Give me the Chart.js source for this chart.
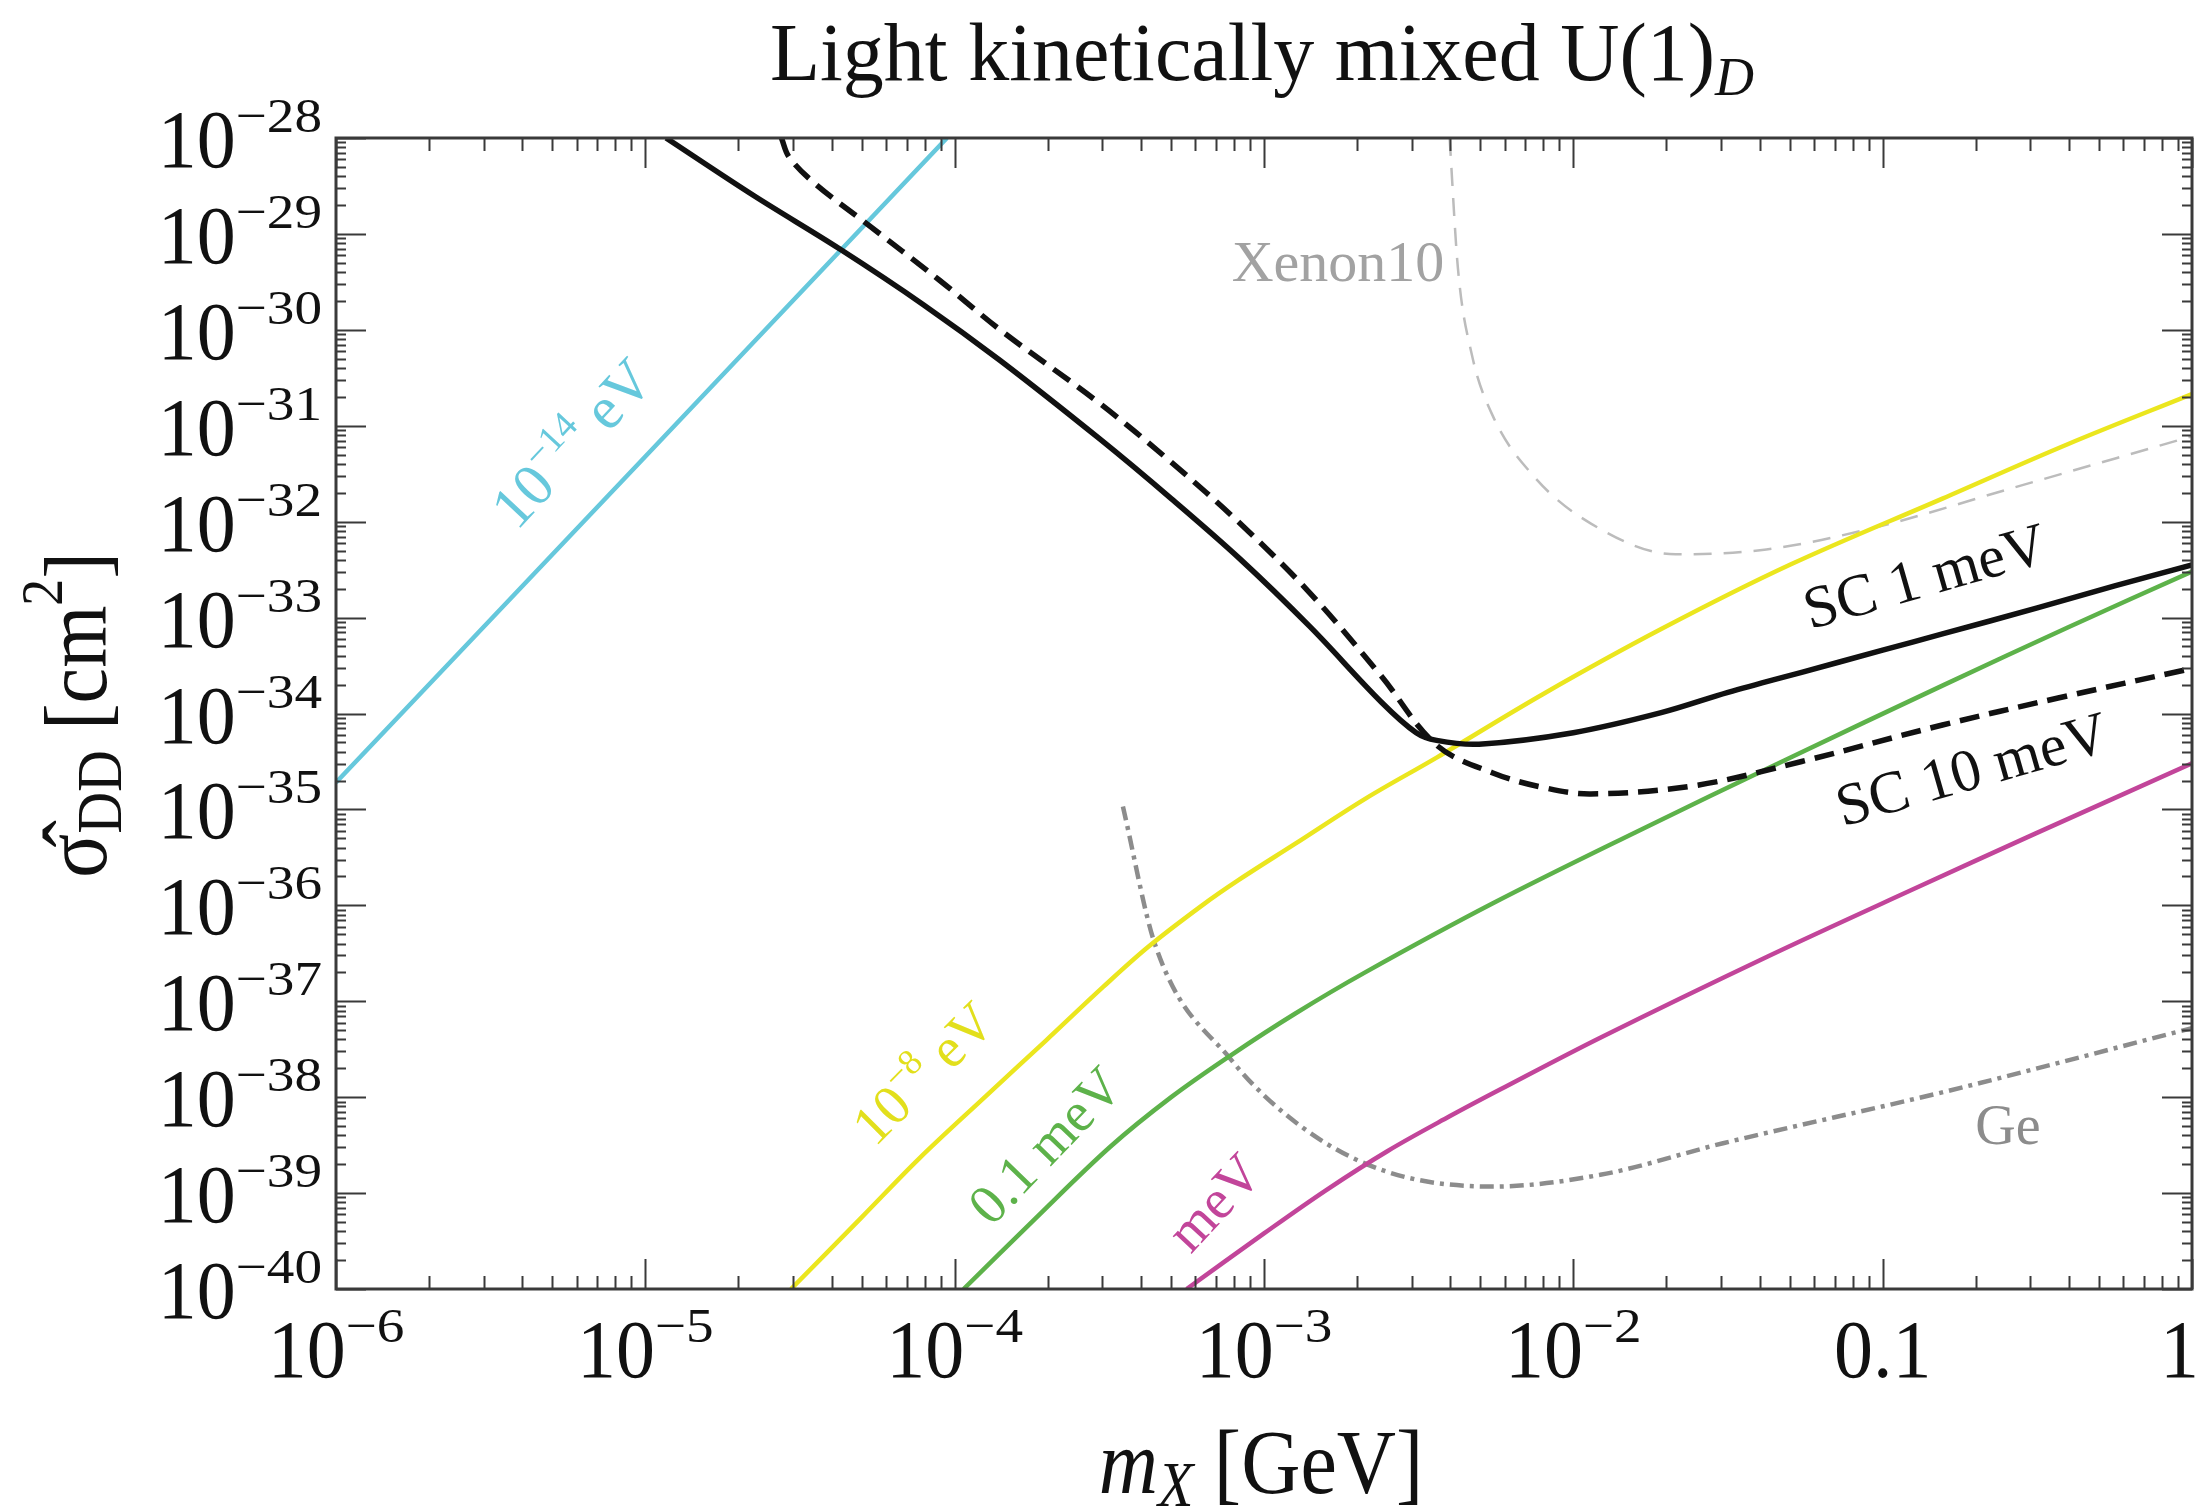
<!DOCTYPE html>
<html lang="en">
  <head>
    <meta charset="UTF-8" />
    <title>Light kinetically mixed U(1)D</title>
    <script src="https://cdn.jsdelivr.net/npm/chart.js"></script>
    <style>
      * {
        margin: 0;
        padding: 0;
      }
      body {
        background: #fff;
      }
      .wrap {
        width: 2200px;
        height: 1508px;
        position: relative;
      }
    </style>
  </head>
  <body>
    <div class="wrap">
      <canvas id="chart"></canvas>
    </div>

    <script>
      /*====  DATA (m_X in GeV, sigma in cm^2) ============================ */
      const sc1X = [1.167e-5, 2.239e-5, 4.266e-5, 7.943e-5, 1.403e-4, 2.951e-4, 5.012e-4, 8.375e-4, 1.413e-3, 2.393e-3, 3.105e-3, 3.614e-3, 4.955e-3, 1.0e-2, 1.923e-2, 3.162e-2, 5.47e-2, 0.1, 0.156, 0.3162, 0.5623, 1];
      const sc1Y = [1e-28, 2.512e-29, 6.92e-30, 1.82e-30, 4.79e-31, 7.24e-32, 1.74e-32, 4.07e-33, 7.94e-34, 1.32e-34, 6.31e-35, 5.25e-35, 4.79e-35, 6.31e-35, 1.02e-34, 1.66e-34, 2.69e-34, 4.57e-34, 6.76e-34, 1.26e-33, 2.14e-33, 3.55e-33];

      const sc10X = [2.754e-5, 2.917e-5, 3.548e-5, 5.129e-5, 8.913e-5, 1.403e-4, 2.951e-4, 5.012e-4, 8.375e-4, 1.413e-3, 2.382e-3, 3.614e-3, 5.495e-3, 7.943e-3, 1.14e-2, 2.495e-2, 5.47e-2, 0.156, 0.369, 1];
      const sc10Y = [1e-28, 6.31e-29, 3.31e-29, 1.32e-29, 3.31e-30, 1e-30, 1.7e-31, 4.17e-32, 9.55e-33, 1.78e-33, 2.51e-34, 4.68e-35, 2.4e-35, 1.7e-35, 1.45e-35, 1.78e-35, 3.16e-35, 7.59e-35, 1.45e-34, 2.95e-34];

      const xenonX = [3.981e-3, 4.236e-3, 4.699e-3, 5.495e-3, 7.516e-3, 1.14e-2, 2.138e-2, 4.207e-2, 9.204e-2, 0.2624, 1];
      const xenonY = [1e-28, 4.37e-30, 5.5e-31, 1.26e-31, 2.88e-32, 9.55e-33, 4.57e-33, 5.13e-33, 8.51e-33, 2.24e-32, 7.76e-32];

      const cyanX = [1e-6, 1e-5, 9.44e-5];
      const cyanY = [1.905e-35, 4.786e-32, 1e-28];

      const yellowX = [2.958e-5, 5.012e-5, 7.674e-5, 1.259e-4, 1.972e-4, 3.02e-4, 4.236e-4, 6.31e-4, 8.241e-4, 1.259e-3, 2.123e-3, 3.614e-3, 7.943e-3, 1.923e-2, 5.012e-2, 0.156, 0.3981, 1];
      const yellowY = [1e-40, 5.62e-40, 2.29e-39, 1.02e-38, 3.89e-38, 1.41e-37, 3.72e-37, 1e-36, 1.82e-36, 4.37e-36, 1.29e-35, 3.47e-35, 1.58e-34, 7.59e-34, 3.55e-33, 1.74e-32, 6.46e-32, 2.14e-31];

      const greenX = [1.069e-4, 1.778e-4, 3.177e-4, 5.012e-4, 7.834e-4, 1.259e-3, 2.123e-3, 5.495e-3, 1.585e-2, 4.808e-2, 0.1585, 0.3981, 1];
      const greenY = [1e-40, 5.01e-40, 3.02e-39, 1e-38, 2.75e-38, 7.41e-38, 2.0e-37, 1.05e-36, 5.75e-36, 3.24e-35, 2.0e-34, 7.94e-34, 3.02e-33];

      const magentaX = [5.623e-4, 1e-3, 1.585e-3, 2.512e-3, 3.981e-3, 5.794e-3, 1.222e-2, 4.266e-2, 0.1259, 0.3126, 1];
      const magentaY = [1e-40, 3.8e-40, 1.07e-39, 2.75e-39, 6.31e-39, 1.2e-38, 4.17e-38, 2.95e-37, 1.48e-36, 5.62e-36, 3.02e-35];

      const geX = [3.499e-4, 4.446e-4, 7.834e-4, 1.324e-3, 2.455e-3, 5.495e-3, 1.222e-2, 3.048e-2, 0.1607, 1];
      const geY = [1.07e-35, 3.89e-37, 2.45e-38, 4.9e-39, 1.7e-39, 1.17e-39, 1.55e-39, 3.31e-39, 1.15e-38, 5.25e-38];

      // tick labels, "base^exponent"
      const xTickVals = [1e-6, 1e-5, 1e-4, 1e-3, 1e-2, 0.1, 1];
      const xTickText = ['10^−6', '10^−5', '10^−4', '10^−3', '10^−2', '0.1', '1'];
      const yTickVals = [1e-28, 1e-29, 1e-30, 1e-31, 1e-32, 1e-33, 1e-34, 1e-35, 1e-36, 1e-37, 1e-38, 1e-39, 1e-40];
      const yTickText = ['10^−28', '10^−29', '10^−30', '10^−31', '10^−32', '10^−33', '10^−34', '10^−35', '10^−36', '10^−37', '10^−38', '10^−39', '10^−40'];

      const SERIF = '"Liberation Serif", "DejaVu Serif", serif';

      function pts(xs, ys) {
        return xs.map((x, i) => ({ x: x, y: ys[i] }));
      }

      /*====  text helper: runs of text with baseline shifts ============================ */
      function runs(ctx, parts, x, y, opt) {
        opt = opt || {};
        let w = 0;
        parts.forEach((p) => {
          ctx.font = p[1];
          w += ctx.measureText(p[0]).width * (p[3] || 1);
        });
        ctx.save();
        ctx.translate(x, y);
        if (opt.rot) ctx.rotate((opt.rot * Math.PI) / 180);
        ctx.scale(opt.sx || 1, opt.sy || 1);
        ctx.fillStyle = opt.color || '#111';
        ctx.textBaseline = opt.baseline || 'alphabetic';
        ctx.textAlign = 'left';
        let cx = opt.align === 'right' ? -w : opt.align === 'left' ? 0 : -w / 2;
        parts.forEach((p) => {
          const psx = p[3] || 1;
          ctx.font = p[1];
          ctx.save();
          ctx.translate(cx, p[2] || 0);
          ctx.scale(psx, 1);
          ctx.fillText(p[0], 0, 0);
          ctx.restore();
          cx += ctx.measureText(p[0]).width * psx;
        });
        ctx.restore();
        return w * (opt.sx || 1);
      }

      function tickParts(str) {
        const s = str.split('^');
        const parts = [[s[0], '78px ' + SERIF, 0]];
        if (s.length > 1) parts.push([s[1], '46px ' + SERIF, -33, 1.2]);
        return parts;
      }

      /*====  frame, ticks and text ============================ */
      const decor = {
        id: 'decor',
        afterDatasetsDraw(chart) {
          const ctx = chart.ctx;
          const a = chart.chartArea;
          const xs = chart.scales.x;
          const ys = chart.scales.y;

          ctx.save();
          ctx.strokeStyle = '#3a3a3a';
          ctx.lineWidth = 2;
          ctx.beginPath();
          for (let e = -6; e <= 0; e++) {
            for (let m = 1; m <= 9; m++) {
              const v = m * Math.pow(10, e);
              if (v > 1.0001) break;
              const px = Math.round(xs.getPixelForValue(v)) + 0.5;
              const len = m === 1 ? 30 : 13;
              ctx.moveTo(px, a.bottom);
              ctx.lineTo(px, a.bottom - len);
              ctx.moveTo(px, a.top);
              ctx.lineTo(px, a.top + len);
            }
          }
          for (let e = -40; e <= -28; e++) {
            for (let m = 1; m <= 9; m++) {
              const v = m * Math.pow(10, e);
              if (e === -28 && m > 1) break;
              const py = Math.round(ys.getPixelForValue(v)) + 0.5;
              const len = m === 1 ? 30 : 10;
              ctx.moveTo(a.left, py);
              ctx.lineTo(a.left + len, py);
              ctx.moveTo(a.right, py);
              ctx.lineTo(a.right - len, py);
            }
          }
          ctx.stroke();
          ctx.lineWidth = 3;
          ctx.strokeRect(a.left, a.top, a.right - a.left, a.bottom - a.top);
          ctx.restore();

          // y tick labels
          yTickVals.forEach((v, i) => {
            const py = ys.getPixelForValue(v);
            runs(ctx, tickParts(yTickText[i]), 322, py + 29, { align: 'right', sy: 1.06 });
          });
          // x tick labels
          xTickVals.forEach((v, i) => {
            const px = xs.getPixelForValue(v);
            const parts = tickParts(xTickText[i]);
            let w = 0;
            parts.forEach((p) => {
              ctx.font = p[1];
              w += ctx.measureText(p[0]).width * (p[3] || 1);
            });
            const cx = Math.min(px, 2199 - w / 2);
            runs(ctx, parts, cx, 1377, { sy: 1.06 });
          });

          // titles
          runs(ctx, [['Light kinetically mixed U(1)', '82px ' + SERIF, 0], ['D', 'italic 54px ' + SERIF, 15]], 1262, 80);
          runs(ctx, [['m', 'italic 82px ' + SERIF, 0], ['X', 'italic 58px ' + SERIF, 12], [' [GeV]', '82px ' + SERIF, 0]], 1261, 1493, { sy: 1.1 });
          runs(
            ctx,
            [['σ\u0302', '82px ' + SERIF, 0], ['DD', '58px ' + SERIF, 14], [' [cm', '80px ' + SERIF, 0], ['2', '54px ' + SERIF, -40], [']', '80px ' + SERIF, 0]],
            106,
            715,
            { rot: -90, sy: 1.1 }
          );

          // curve labels
          const mid = { baseline: 'middle' };
          runs(ctx, [['10', '60px ' + SERIF, 0], ['−14', '38px ' + SERIF, -20], [' eV', '60px ' + SERIF, 0]], 575, 446, Object.assign({ rot: -47, color: '#66c8dc' }, mid));
          runs(ctx, [['Xenon10', '58px ' + SERIF, 0]], 1338, 266, Object.assign({ color: '#a2a2a2' }, mid));
          runs(ctx, [['SC 1 meV', '60px ' + SERIF, 0]], 1926, 580, Object.assign({ rot: -16, color: '#111' }, mid));
          runs(ctx, [['SC 10 meV', '60px ' + SERIF, 0]], 1973, 773, Object.assign({ rot: -16, color: '#111' }, mid));
          runs(ctx, [['Ge', '56px ' + SERIF, 0]], 2008, 1129, Object.assign({ color: '#8c8c8c' }, mid));
          runs(ctx, [['10', '56px ' + SERIF, 0], ['−8', '36px ' + SERIF, -19], [' eV', '56px ' + SERIF, 0]], 926, 1076, Object.assign({ rot: -45, color: '#e2df1c' }, mid));
          runs(ctx, [['0.1 meV', '56px ' + SERIF, 0]], 1048, 1148, Object.assign({ rot: -46, color: '#5db24a' }, mid));
          runs(ctx, [['meV', '56px ' + SERIF, 0]], 1217, 1205, Object.assign({ rot: -47, color: '#c2459a' }, mid));
        }
      };

      /*====  CHART ============================ */
      function line(label, xs, ys, color, width, dash, mono) {
        return {
          label: label,
          data: pts(xs, ys),
          borderColor: color,
          borderWidth: width,
          borderDash: dash || [],
          pointRadius: 0,
          fill: false,
          tension: 0.35,
          cubicInterpolationMode: mono ? 'monotone' : 'default'
        };
      }

      const ctx = document.getElementById('chart').getContext('2d');
      const myChart = new Chart(ctx, {
        type: 'line',
        data: {
          datasets: [
            line('SC 1 meV', sc1X, sc1Y, '#111111', 5.5),
            line('SC 10 meV', sc10X, sc10Y, '#111111', 5.5, [20, 10]),
            line('10^-14 eV', cyanX, cyanY, '#66c8dc', 4.5),
            line('10^-8 eV', yellowX, yellowY, '#ebe61e', 4.5),
            line('0.1 meV', greenX, greenY, '#5db24a', 4.5),
            line('meV', magentaX, magentaY, '#c2459a', 4.5),
            line('Ge', geX, geY, '#8c8c8c', 4.5, [14, 6, 4, 6], true),
            line('Xenon10', xenonX, xenonY, '#bcbcbc', 2.5, [18, 12], true)
          ]
        },
        options: {
          responsive: true,
          maintainAspectRatio: false,
          devicePixelRatio: 1,
          animation: false,
          layout: { padding: { top: 138, right: 8, left: 0, bottom: 0 } },
          plugins: { legend: { display: false }, tooltip: { enabled: false } },
          scales: {
            x: {
              type: 'logarithmic',
              min: 1e-6,
              max: 1,
              ticks: { display: false },
              grid: { display: false },
              border: { display: false },
              afterFit: (s) => {
                s.height = 219;
              }
            },
            y: {
              type: 'logarithmic',
              min: 1e-40,
              max: 1e-28,
              ticks: { display: false },
              grid: { display: false },
              border: { display: false },
              afterFit: (s) => {
                s.width = 336;
              }
            }
          }
        },
        plugins: [decor]
      });
    </script>
  </body>
</html>
